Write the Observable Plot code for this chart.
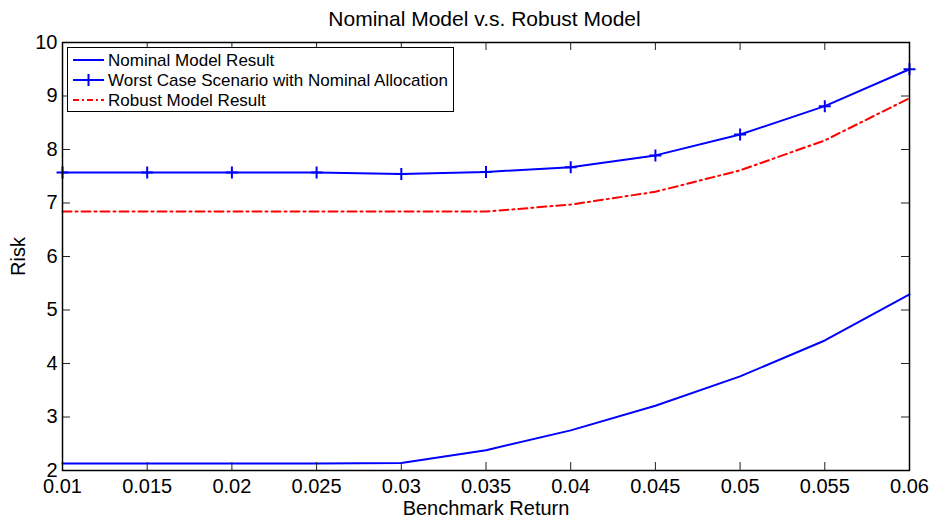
<!DOCTYPE html>
<html>
<head>
<meta charset="utf-8">
<script src="https://cdn.jsdelivr.net/npm/d3@7"></script>
<script src="https://cdn.jsdelivr.net/npm/@observablehq/plot@0.6"></script>
<style>
  html, body { margin: 0; padding: 0; background: #fff; }
  #wrap { position: relative; width: 935px; height: 518px; font-family: "Liberation Sans", Arial, sans-serif; }
  #chart { position: absolute; left: 0; top: 0; }
  #title { position: absolute; left: 0; top: 2px; width: 935px; height: 34px; line-height: 34px; text-align: center; font-size: 21px; color: #000; padding-left: 34px; box-sizing: border-box; z-index: 2; }
  #legend { position: absolute; left: 67px; top: 47px; width: 387px; height: 65px; border: 1px solid #000; background: #fff; box-sizing: border-box; z-index: 2; }
</style>
</head>
<body>
<div id="wrap">
  <div id="chart"></div>
  <div id="title">Nominal Model v.s. Robust Model</div>
  <div id="legend"></div>
</div>
<script>
const benchmark = [0.01, 0.015, 0.02, 0.025, 0.03, 0.035, 0.04, 0.045, 0.05, 0.055, 0.06];
const nominalRisk = [2.13, 2.13, 2.13, 2.13, 2.14, 2.38, 2.75, 3.21, 3.76, 4.43, 5.29];
const worstRisk = [7.57, 7.57, 7.57, 7.57, 7.54, 7.58, 7.67, 7.89, 8.28, 8.81, 9.50];
const robustRisk = [6.84, 6.84, 6.84, 6.84, 6.84, 6.84, 6.97, 7.21, 7.61, 8.17, 8.96];
const seriesNames = ["Nominal Model Result", "Worst Case Scenario with Nominal Allocation", "Robust Model Result"];
const xTicks = [0.01, 0.015, 0.02, 0.025, 0.03, 0.035, 0.04, 0.045, 0.05, 0.055, 0.06];
const yTicks = [2, 3, 4, 5, 6, 7, 8, 9, 10];

const nominal = benchmark.map((x, i) => ({x, y: nominalRisk[i]}));
const worst = benchmark.map((x, i) => ({x, y: worstRisk[i]}));
const robust = benchmark.map((x, i) => ({x, y: robustRisk[i]}));

const W = 935, H = 518;
const mL = 62, mR = 26, mT = 42, mB = 48;
const pw = W - mL - mR, ph = H - mT - mB;
const tickLen = 8;

const plusSymbol = {
  draw(ctx, size) {
    const r = Math.sqrt(size / Math.PI);
    ctx.moveTo(-r, 0); ctx.lineTo(r, 0);
    ctx.moveTo(0, -r); ctx.lineTo(0, r);
  }
};

const blue = "#0000ff", red = "#ff0000";

const chart = Plot.plot({
  width: W, height: H,
  marginLeft: mL, marginRight: mR, marginTop: mT, marginBottom: mB,
  style: {fontFamily: "Liberation Sans, Arial, sans-serif", fontSize: "20px", color: "#000", background: "#fff"},
  x: {domain: [0.01, 0.06]},
  y: {domain: [2, 10]},
  marks: [
    Plot.line(nominal, {x: "x", y: "y", stroke: blue, strokeWidth: 2}),
    Plot.line(worst, {x: "x", y: "y", stroke: blue, strokeWidth: 2}),
    Plot.dot(worst, {x: "x", y: "y", symbol: plusSymbol, r: 6, stroke: blue, strokeWidth: 2, fill: "none"}),
    Plot.line(robust, {x: "x", y: "y", stroke: red, strokeWidth: 2, strokeDasharray: "9,4,2,4"}),
    // inward ticks (MATLAB style)
    Plot.ruleX(xTicks, {x: d => d, insetTop: ph - tickLen, stroke: "#222", strokeWidth: 1}),
    Plot.ruleX(xTicks, {x: d => d, insetBottom: ph - tickLen, stroke: "#222", strokeWidth: 1}),
    Plot.ruleY(yTicks, {y: d => d, insetRight: pw - tickLen, stroke: "#222", strokeWidth: 1}),
    Plot.ruleY(yTicks, {y: d => d, insetLeft: pw - tickLen, stroke: "#222", strokeWidth: 1}),
    Plot.frame({stroke: "#000", strokeWidth: 1.5}),
    Plot.axisX({ticks: xTicks, tickFormat: d => String(d), tickSize: 0, tickPadding: 8, label: "Benchmark Return", labelAnchor: "center", labelArrow: "none", labelOffset: 44, fontSize: 20}),
    Plot.axisY({ticks: yTicks, tickFormat: d => String(d), tickSize: 0, tickPadding: 5, label: "Risk", labelAnchor: "center", labelArrow: "none", labelOffset: 52, fontSize: 20})
  ]
});
document.getElementById("chart").appendChild(chart);

// legend
const lg = d3.select("#legend").append("svg").attr("width", 385).attr("height", 63)
  .style("font-family", "Liberation Sans, Arial, sans-serif").style("font-size", "17px");
const rows = [
  {name: seriesNames[0], color: blue, dash: null, plus: false},
  {name: seriesNames[1], color: blue, dash: null, plus: true},
  {name: seriesNames[2], color: red, dash: "6,3,2,3", plus: false}
];
rows.forEach((r, i) => {
  const cy = 12 + i * 20;
  lg.append("line").attr("x1", 5).attr("x2", 36).attr("y1", cy).attr("y2", cy)
    .attr("stroke", r.color).attr("stroke-width", 2).attr("stroke-dasharray", r.dash);
  if (r.plus) {
    lg.append("line").attr("x1", 20.5).attr("x2", 20.5).attr("y1", cy - 6).attr("y2", cy + 6)
      .attr("stroke", r.color).attr("stroke-width", 2);
  }
  lg.append("text").attr("x", 40).attr("y", cy).attr("dy", "0.35em").text(r.name);
});
</script>
</body>
</html>
